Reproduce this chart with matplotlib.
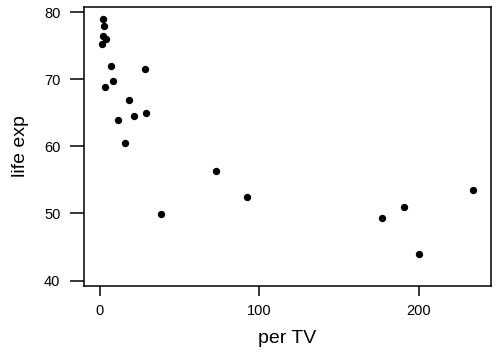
import numpy as np
import matplotlib.pyplot as plt

plt.rcParams["font.family"] = ["Liberation Sans", "DejaVu Sans"]
plt.rcParams["axes.linewidth"] = 1.1

# people per TV vs life expectancy
per_tv = [2.1, 2.7, 2.1, 3.6, 1.1, 6.9, 28.4, 8.3, 3.3, 18.4, 21.5,
          29.1, 11.5, 15.5, 72.8, 92.5, 38.5, 177.0, 191.0, 200.3, 234.3]
life_exp = [78.9, 77.9, 76.5, 76.0, 75.3, 71.9, 71.5, 69.8, 68.9, 66.9, 64.5,
            64.9, 63.9, 60.5, 56.4, 52.4, 49.9, 49.4, 50.9, 43.9, 53.5]

xticks = [0, 100, 200]
yticks = [40, 50, 60, 70, 80]

fig = plt.figure(figsize=(5, 3.53), dpi=100)
ax = fig.add_axes([0.168, 0.191, 0.814, 0.788])

ax.scatter(per_tv, life_exp, s=28, c="black", linewidths=0)

ax.set_xlim(-10, 245.4)
ax.set_ylim(39.26, 80.7)
ax.set_xticks(xticks)
ax.set_yticks(yticks)
ax.tick_params(axis="x", length=7, width=1.1, pad=6, labelsize=10.5)
ax.tick_params(axis="y", length=10, width=1.1, pad=7, labelsize=10.5)

ax.set_xlabel("per TV", fontsize=14, labelpad=9)
ax.set_ylabel("life exp", fontsize=14, labelpad=11)

plt.savefig("out.png", dpi=100)
